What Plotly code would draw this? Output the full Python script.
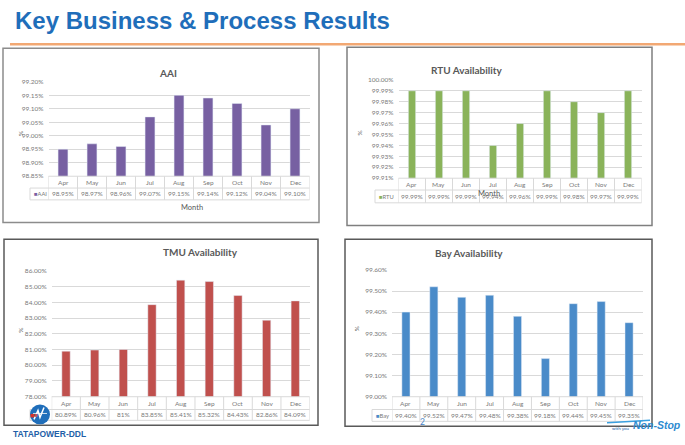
import plotly.graph_objects as go

W, H = 685, 445

# ---------------- data ----------------
months = ["Apr", "May", "Jun", "Jul", "Aug", "Sep", "Oct", "Nov", "Dec"]
aai = [98.95, 98.97, 98.96, 99.07, 99.15, 99.14, 99.12, 99.04, 99.10]
rtu = [99.99, 99.99, 99.99, 99.94, 99.96, 99.99, 99.98, 99.97, 99.99]
tmu = [80.89, 80.96, 81.00, 83.85, 85.41, 85.32, 84.43, 82.86, 84.09]
bay = [99.40, 99.52, 99.47, 99.48, 99.38, 99.18, 99.44, 99.45, 99.35]


def px(x):
    return x / W


def py(y):
    return 1 - y / H


def fmt_plain(v):
    return f"{v:.2f}%"


def fmt_trim(v):
    return f"{v:.0f}%" if abs(v - round(v)) < 1e-9 else f"{v:.2f}%"


GRID = "#D9D9D9"
TICK = "#7A7A7A"
TXT = "#595959"
FONT = "Lato, Liberation Sans, Arial, sans-serif"
SANS = "Liberation Sans, Arial, sans-serif"

panels = [
    dict(title="AAI", name="AAI", values=aai, color="#7760A2", yr=[98.85, 99.20], dtick=0.05,
         box=(3, 45, 319, 222), plot=(48.5, 79, 309.5, 175), hb=187, vb=199, leg=30,
         title_xy=(157, 62), pct_xy=(15, 127), month_xy=(179, 207), bw=0.34, fmt=fmt_plain,
         border="#8C8C8C"),
    dict(title="RTU Availability", name="RTU", values=rtu, color="#8AB35A", yr=[99.91, 100.00], dtick=0.01,
         box=(347, 44, 652, 225), plot=(398.5, 77, 641.5, 177), hb=189, vb=202, leg=375,
         title_xy=(505, 59), pct_xy=(360, 127), month_xy=(502, 193), bw=0.27, fmt=fmt_plain,
         border="#7F7F7F"),
    dict(title="TMU Availability", name="TMU", values=tmu, color="#C0504D", yr=[78.0, 86.0], dtick=1.0,
         box=(4, 239, 318, 428), plot=(51.7, 271, 309.6, 399), hb=412, vb=423, leg=30,
         title_xy=(161, 252), pct_xy=(15, 336), month_xy=None, bw=0.29, fmt=fmt_trim,
         border="#595959"),
    dict(title="Bay Availability", name="Bay", values=bay, color="#4A8BC9", yr=[99.00, 99.60], dtick=0.10,
         box=(345, 239, 652, 429), plot=(392, 270, 643, 399), hb=412, vb=424, leg=372,
         title_xy=(505, 253), pct_xy=(356, 335), month_xy=None, bw=0.29, fmt=fmt_plain,
         border="#595959"),
]

fig = go.Figure()
layout = {}
shapes = []
annots = []

for k, p in enumerate(panels):
    sfx = "" if k == 0 else str(k + 1)
    xa, ya = "x" + sfx, "y" + sfx
    l, t, r, b = p["plot"]
    fig.add_trace(go.Bar(x=months, y=p["values"], marker_color=p["color"], width=p["bw"],
                         xaxis=xa, yaxis=ya, showlegend=False, hoverinfo="skip"))
    eps = (p["yr"][1] - p["yr"][0]) * 0.001
    layout["xaxis" + sfx] = dict(domain=[px(l), px(r)], anchor=ya, showticklabels=False, showgrid=False,
                                 zeroline=False, showline=False, ticks="", range=[-0.5, 8.5])
    layout["yaxis" + sfx] = dict(domain=[py(b), py(t)], anchor=xa, range=[p["yr"][0] - eps, p["yr"][1] + eps],
                                 tick0=p["yr"][0], dtick=p["dtick"], tickformat=".2f", ticksuffix="%",
                                 showgrid=True, gridcolor=GRID, gridwidth=1, zeroline=False, showline=False,
                                 ticks="", ticklabelstandoff=4,
                                 tickfont=dict(size=6.5, color=TICK, family=FONT))

    # panel border
    bx0, by0, bx1, by1 = p["box"]
    shapes.append(dict(type="rect", xref="paper", yref="paper", x0=px(bx0), x1=px(bx1), y0=py(by1), y1=py(by0),
                       line=dict(color=p["border"], width=1.5), fillcolor="rgba(0,0,0,0)", layer="below"))

    # data table
    hb, vb, leg = p["hb"], p["vb"], p["leg"]
    line = dict(color=GRID, width=1)
    shapes.append(dict(type="line", xref="paper", yref="paper", x0=px(l), x1=px(r), y0=py(b), y1=py(b), line=line))
    shapes.append(dict(type="line", xref="paper", yref="paper", x0=px(leg), x1=px(r), y0=py(hb), y1=py(hb), line=line))
    shapes.append(dict(type="line", xref="paper", yref="paper", x0=px(leg), x1=px(r), y0=py(vb), y1=py(vb), line=line))
    shapes.append(dict(type="line", xref="paper", yref="paper", x0=px(leg), x1=px(leg), y0=py(vb), y1=py(hb), line=line))
    for i in range(len(months) + 1):
        shapes.append(dict(type="line", xref=xa, yref="paper", x0=i - 0.5, x1=i - 0.5, y0=py(vb), y1=py(b), line=line))
    for m, v in zip(months, p["values"]):
        annots.append(dict(x=m, xref=xa, y=py((b + hb) / 2), yref="paper", text=m, showarrow=False,
                           font=dict(size=6.5, color=TICK, family=FONT), yanchor="middle"))
        annots.append(dict(x=m, xref=xa, y=py((hb + vb) / 2), yref="paper", text=p["fmt"](v), showarrow=False,
                           font=dict(size=6.5, color=TICK, family=FONT), yanchor="middle"))
    # legend key in table
    if k == 2:
        leg_text = f"<span style='color:{p['color']}'>■</span>"
    else:
        leg_text = f"<span style='color:{p['color']}'>■</span>{p['name']}"
    annots.append(dict(x=px(leg + 1.5), xref="paper", y=py((hb + vb) / 2), yref="paper", text=leg_text,
                       showarrow=False, xanchor="left", yanchor="middle",
                       font=dict(size=5.8, color=TICK, family=FONT)))

    # titles
    tx, ty = p["title_xy"]
    annots.append(dict(x=px(tx), y=py(ty), xref="paper", yref="paper", text=f"<b>{p['title']}</b>",
                       showarrow=False, font=dict(size=10, color=TXT, family=FONT)))
    cx, cy = p["pct_xy"]
    annots.append(dict(x=px(cx), y=py(cy), xref="paper", yref="paper", text="%", textangle=-90,
                       showarrow=False, font=dict(size=6.5, color=TXT, family=FONT)))
    if p["month_xy"]:
        mx, my = p["month_xy"]
        annots.append(dict(x=px(mx), y=py(my), xref="paper", yref="paper", text="Month",
                           showarrow=False, font=dict(size=7.5, color=TXT, family=FONT)))

# slide header
annots.append(dict(x=px(13), y=py(17), xref="paper", yref="paper", text="<b>Key Business &amp; Process Results</b>",
                   showarrow=False, xanchor="left", yanchor="middle",
                   font=dict(size=24, color="#1F6EBA", family=SANS)))
shapes.append(dict(type="line", xref="paper", yref="paper", x0=px(10), x1=px(685), y0=py(41), y1=py(41),
                   line=dict(color="#F2A873", width=2.5)))

# bottom-left logo
shapes.append(dict(type="circle", xref="paper", yref="paper", x0=px(30), x1=px(50), y0=py(427), y1=py(407),
                   fillcolor="#1F6EBA", line=dict(color="#1F6EBA", width=0), layer="above"))


def path(pts):
    return "M " + " L ".join(f"{px(x):.5f},{py(y):.5f}" for x, y in pts)


shapes.append(dict(type="path", xref="paper", yref="paper",
                   path=path([(34, 422), (38, 413), (40, 420), (44, 410)]),
                   line=dict(color="white", width=1.5), layer="above"))
shapes.append(dict(type="line", xref="paper", yref="paper", x0=px(33), x1=px(47), y0=py(416), y1=py(416),
                   line=dict(color="white", width=0.8), layer="above"))
shapes.append(dict(type="rect", xref="paper", yref="paper", x0=px(30.5), x1=px(34), y0=py(420), y1=py(416.5),
                   fillcolor="#D9342B", line=dict(width=0), layer="above"))
annots.append(dict(x=px(11), y=py(437), xref="paper", yref="paper",
                   text="<b>TATA</b><b>POWER-DDL</b>", showarrow=False, xanchor="left", yanchor="middle",
                   font=dict(size=8.5, color="#1F5FA8", family=SANS)))

# page number
annots.append(dict(x=px(422), y=py(432), xref="paper", yref="paper", text="2", showarrow=False,
                   font=dict(size=8.5, color="#4A86C8", family=FONT)))

# bottom-right tagline
shapes.append(dict(type="path", xref="paper", yref="paper",
                   path=path([(607, 425.5), (625, 424.5), (650, 423)]),
                   line=dict(color="#3AA0E0", width=1.5)))
annots.append(dict(x=px(610), y=py(431), xref="paper", yref="paper", text="with you", showarrow=False,
                   xanchor="left", yanchor="middle", font=dict(size=4.5, color="#1F5FA8", family=FONT)))
annots.append(dict(x=px(631), y=py(428), xref="paper", yref="paper", text="<b><i>Non-Stop</i></b>",
                   showarrow=False, xanchor="left", yanchor="middle",
                   font=dict(size=10.5, color="#2E8BD0", family=SANS)))

fig.update_layout(
    width=W, height=H, autosize=False,
    margin=dict(l=0, r=0, t=0, b=0),
    paper_bgcolor="white", plot_bgcolor="white",
    bargap=0.6,
    shapes=shapes, annotations=annots,
    **layout,
)

fig.write_html("out.html",
               config={"displayModeBar": False, "staticPlot": True},
               post_script="document.body.style.margin='0';document.body.style.overflow='hidden';")
